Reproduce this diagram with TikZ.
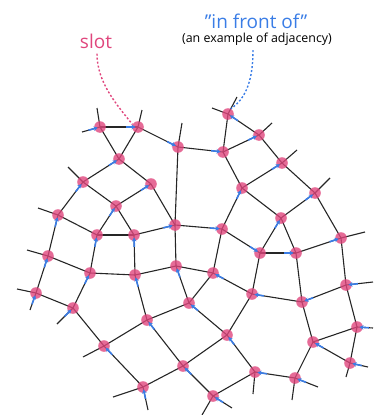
\documentclass[tikz,border=0pt]{standalone}
\usepackage{fontspec}
\setmainfont{Open Sans}
\usepackage{xcolor}
\usepackage{tikz}
\usetikzlibrary{arrows.meta, calc}

\definecolor{slotpink}{RGB}{224,70,125}
\definecolor{frontblue}{RGB}{58,125,230}

% blue mark on the edge from #1 into slot #2
\newcommand{\frontmark}[2]{\draw[front] ($(#2)!12pt!(#1)$) -- ($(#2)!2.5pt!(#1)$);}

\begin{document}
\begin{tikzpicture}[x=1pt, y=-1pt,
		wire/.style={line width=1.1pt, black!85},
		slotdot/.style={fill=slotpink, fill opacity=0.8},
		front/.style={line width=1.6pt, frontblue, -{Stealth[length=4pt,width=4.5pt]}},
		note/.style={line width=1.4pt, dash pattern=on 2pt off 2pt}]
			\useasboundingbox (0,0) rectangle (380,415);
			% Slots:
			\coordinate (A1) at (100,127);
			\coordinate (A2) at (138,127);
			\coordinate (A3) at (178,147);
			\coordinate (A4) at (228,114);
			\coordinate (A5) at (259,135);
			\coordinate (A6) at (223,152);
			\coordinate (B1) at (119,159);
			\coordinate (B2) at (83,182);
			\coordinate (B3) at (151,184);
			\coordinate (B4) at (282,163);
			\coordinate (B5) at (242,188);
			\coordinate (B6) at (315,193);
			\coordinate (C1) at (116,206);
			\coordinate (C2) at (58,215);
			\coordinate (C3) at (97,235);
			\coordinate (C4) at (134,235);
			\coordinate (C5) at (175,225);
			\coordinate (C6) at (281,218);
			\coordinate (C7) at (222,229);
			\coordinate (C8) at (341,238);
			\coordinate (C9) at (260,253);
			\coordinate (C10) at (296,253);
			\coordinate (D1) at (48,256);
			\coordinate (D2) at (90,273);
			\coordinate (D3) at (135,275);
			\coordinate (D4) at (176,266);
			\coordinate (D5) at (213,273);
			\coordinate (D6) at (36,293);
			\coordinate (D7) at (73,308);
			\coordinate (D8) at (189,303);
			\coordinate (D9) at (252,294);
			\coordinate (D10) at (302,302);
			\coordinate (D11) at (346,285);
			\coordinate (E1) at (147,320);
			\coordinate (E2) at (227,335);
			\coordinate (E3) at (357,327);
			\coordinate (E4) at (313,342);
			\coordinate (E5) at (104,346);
			\coordinate (E6) at (183,366);
			\coordinate (E7) at (350,363);
			\coordinate (E8) at (255,372);
			\coordinate (E9) at (295,378);
			\coordinate (E10) at (143,387);
			\coordinate (E11) at (213,396);
			% Loose ends:
			\coordinate (A1l) at (82,132);
			\coordinate (A1u) at (97,108);
			\coordinate (A2u) at (142,110);
			\coordinate (A3u) at (182,123);
			\coordinate (A4l) at (212,108);
			\coordinate (A4u) at (237,97);
			\coordinate (A5u) at (272,123);
			\coordinate (B2u) at (68,167);
			\coordinate (B4u) at (297,150);
			\coordinate (B6u) at (330,178);
			\coordinate (C2l) at (38,208);
			\coordinate (C8r) at (365,232);
			\coordinate (D1l) at (27,250);
			\coordinate (D6l) at (17,289);
			\coordinate (D6d) at (30,310);
			\coordinate (D7d) at (57,324);
			\coordinate (D11r) at (373,282);
			\coordinate (E3r) at (373,328);
			\coordinate (E5l) at (83,357);
			\coordinate (E7r) at (368,367);
			\coordinate (E7d) at (346,377);
			\coordinate (E8d) at (253,394);
			\coordinate (E9r) at (318,387);
			\coordinate (E9d) at (292,400);
			\coordinate (E10l) at (113,397);
			\coordinate (E10d) at (148,410);
			\coordinate (E11r) at (232,408);
			\coordinate (E11l) at (202,415);
			% Adjacency:
			\foreach \a/\b in {A1/A2, A1/B1, A2/B1, A2/A3, A3/A6, A3/C5, A4/A5, A4/A6, A5/A6, A5/B4, A6/B5,
					B1/B2, B1/B3, B2/C2, B2/C1, B3/C1, B3/C5, B4/B5, B4/B6, B5/C6, B5/C7, B6/C6, B6/C8,
					C1/C3, C1/C4, C2/C3, C2/D1, C3/C4, C3/D2, C4/C5, C4/D3, C5/C7, C5/D4, C6/C9, C6/C10,
					C7/C9, C7/D5, C8/C10, C8/D11, C9/C10, C9/D9, C10/D10,
					D1/D2, D1/D6, D2/D3, D2/D7, D3/D4, D3/E1, D4/D5, D4/D8, D5/D8, D5/D9, D6/D7, D7/E5,
					D8/E1, D8/E2, D9/D10, D9/E2, D10/D11, D10/E4, D11/E3,
					E1/E5, E1/E6, E2/E6, E2/E8, E3/E4, E3/E7, E4/E7, E4/E9, E5/E10, E6/E10, E6/E11,
					E8/E9, E8/E11}
				\draw[wire] (\a) -- (\b);
			\foreach \a/\b in {A1/A1l, A1/A1u, A2/A2u, A3/A3u, A4/A4l, A4/A4u, A5/A5u, B2/B2u, B4/B4u,
					B6/B6u, C2/C2l, C8/C8r, D1/D1l, D6/D6l, D6/D6d, D7/D7d, D11/D11r, E3/E3r, E5/E5l,
					E7/E7r, E7/E7d, E8/E8d, E9/E9r, E9/E9d, E10/E10l, E10/E10d, E11/E11r, E11/E11l}
				\draw[wire] (\a) -- (\b);
			\foreach \s in {A1,A2,A3,A4,A5,A6,B1,B2,B3,B4,B5,B6,C1,C2,C3,C4,C5,C6,C7,C8,C9,C10,
					D1,D2,D3,D4,D5,D6,D7,D8,D9,D10,D11,E1,E2,E3,E4,E5,E6,E7,E8,E9,E10,E11}
				\fill[slotdot] (\s) circle (5.8);
			% Front marks:
			\frontmark{A1l}{A1} \frontmark{A1}{A2} \frontmark{A2}{A3} \frontmark{A5}{A4}
			\frontmark{A6}{A5} \frontmark{A3}{A6} \frontmark{B2}{B1} \frontmark{C2}{B2}
			\frontmark{C1}{B3} \frontmark{B5}{B4} \frontmark{C7}{B5} \frontmark{C6}{B6}
			\frontmark{C3}{C1} \frontmark{D1}{C2} \frontmark{D2}{C3} \frontmark{D3}{C4}
			\frontmark{C4}{C5} \frontmark{C9}{C6} \frontmark{C5}{C7} \frontmark{C10}{C8}
			\frontmark{C7}{C9} \frontmark{C9}{C10} \frontmark{D6}{D1} \frontmark{D7}{D2}
			\frontmark{E1}{D3} \frontmark{D8}{D4} \frontmark{D9}{D5} \frontmark{D6d}{D6}
			\frontmark{D7d}{D7} \frontmark{E2}{D8} \frontmark{D10}{D9} \frontmark{D11}{D10}
			\frontmark{D11r}{D11} \frontmark{E6}{E1} \frontmark{E8}{E2} \frontmark{E3r}{E3}
			\frontmark{E7}{E4} \frontmark{E10}{E5} \frontmark{E11}{E6} \frontmark{E7r}{E7}
			\frontmark{E9}{E8} \frontmark{E9r}{E9} \frontmark{E10d}{E10} \frontmark{E11r}{E11}
			% Labels:
			\node[anchor=base, text=slotpink, font=\fontsize{19}{22}\selectfont] (slotlbl) at (96,48) {slot};
			\node[anchor=base, text=frontblue, font=\fontsize{19}{22}\selectfont] (frontlbl) at (256,28) {\symbol{"22}in front of\symbol{"22}};
			\node[anchor=base, font=\fontsize{12.4}{14}\selectfont, inner sep=1pt] (adjlbl) at (257,42) {(an example of adjacency)};
			\draw[note, slotpink] (slotlbl.south) ++(1,2) .. controls (97,82) and (116,104) .. ($(A2)!6pt!(A1u)$);
			\draw[note, frontblue] (adjlbl.south) ++(-4,4) .. controls (253,78) and (247,98) .. ($(A4)!6pt!(A4u)$);
		\end{tikzpicture}
\end{document}
